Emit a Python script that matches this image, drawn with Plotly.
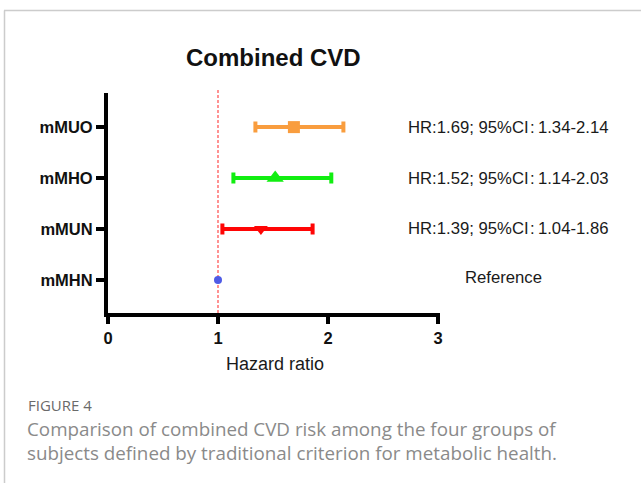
import plotly.graph_objects as go

# ---- data ----
groups = ["mMUO", "mMHO", "mMUN", "mMHN"]
hr = [1.69, 1.52, 1.39, 1.00]
ci_low = [1.34, 1.14, 1.04, None]
ci_high = [2.14, 2.03, 1.86, None]
colors = ["#F99D3E", "#11EE11", "#FF0505", "#4F5BE6"]
symbols = ["square", "triangle-up", "triangle-down", "circle"]
sizes = [12, 15, 12, 8]
x_ticks = [0, 1, 2, 3]
title = "Combined CVD"
x_title = "Hazard ratio"
fig_label = "FIGURE 4"
caption = ["Comparison of combined CVD risk among the four groups of",
           "subjects defined by traditional criterion for metabolic health."]

W, H = 641, 483
L, R, T, B = 108, 201, 93, 170
pw, ph = W - L - R, H - T - B

def px_x(px):
    return (px - L) / pw

def px_y(py):
    return (H - B - py) / ph

fig = go.Figure()

for g, h, lo, hi, c, s, sz in zip(groups, hr, ci_low, ci_high, colors, symbols, sizes):
    err = None
    if lo is not None:
        err = dict(type="data", symmetric=False, array=[hi - h], arrayminus=[h - lo],
                   color=c, thickness=4, width=5.5)
    fig.add_trace(go.Scatter(
        x=[h], y=[g], mode="markers",
        marker=dict(color=c, symbol=s, size=sz, line=dict(width=0)),
        error_x=err, showlegend=False, cliponaxis=False))

# reference line at HR = 1
fig.add_shape(type="line", xref="x", yref="paper", x0=1, x1=1, y0=0, y1=px_y(88),
              line=dict(color="#FF4A4A", width=1.2, dash="3px,2px"), layer="below")

# HR text labels
for g, h, lo, hi in zip(groups, hr, ci_low, ci_high):
    if lo is None:
        txt = "Reference"
        xc = px_x(503)
        ys = 2
    else:
        txt = f"HR:{h:.2f}; 95%CI\u200a:\u2009{lo:.2f}-{hi:.2f}"
        xc = px_x(508)
        ys = 0
    fig.add_annotation(x=xc, xref="paper", y=g, yref="y", text=txt, showarrow=False,
                       xanchor="center", yanchor="middle", yshift=ys,
                       font=dict(family="Liberation Sans, Arial", size=16.7, color="#1a1a1a"))

# title
fig.add_annotation(x=px_x(273.5), xref="paper", y=px_y(58), yref="paper", text=f"<b>{title}</b>",
                   showarrow=False, xanchor="center", yanchor="middle",
                   font=dict(family="Liberation Sans, Arial", size=24, color="#111"))
# x axis title
fig.add_annotation(x=px_x(274.5), xref="paper", y=px_y(364), yref="paper", text=x_title,
                   showarrow=False, xanchor="center", yanchor="middle",
                   font=dict(family="Liberation Sans, Arial", size=18, color="#1a1a1a"))

# caption
fig.add_annotation(x=px_x(26), xref="paper", y=px_y(405), yref="paper", text=fig_label,
                   showarrow=False, xanchor="left", yanchor="middle",
                   font=dict(family="Open Sans", size=15, color="#6a6a6a"))
for i, line in enumerate(caption):
    fig.add_annotation(x=px_x(25), xref="paper", y=px_y(429 + 24 * i), yref="paper", text=line,
                       showarrow=False, xanchor="left", yanchor="middle",
                       font=dict(family="Open Sans", size=18.8, color="#8a8a8a"))

# frame border
fig.add_shape(type="line", xref="paper", yref="paper", x0=px_x(4), x1=px_x(W + 2),
              y0=px_y(10.5), y1=px_y(10.5), line=dict(color="#cccccc", width=1.5))
fig.add_shape(type="line", xref="paper", yref="paper", x0=px_x(4.5), x1=px_x(4.5),
              y0=px_y(10.5), y1=px_y(H + 2), line=dict(color="#cccccc", width=1.5))

axis_font = dict(family="Liberation Sans, Arial", size=16.5, color="#111")
fig.update_layout(
    width=W, height=H,
    margin=dict(l=L, r=R, t=T, b=B, pad=0),
    paper_bgcolor="white", plot_bgcolor="white",
    xaxis=dict(range=[0, pw / 110], tickvals=x_ticks, ticktext=[f"<b>{v}</b>" for v in x_ticks],
               showline=True, linecolor="black", linewidth=4, ticks="outside", ticklen=7,
               tickwidth=4, tickcolor="black", showgrid=False, zeroline=False,
               tickfont=axis_font),
    yaxis=dict(type="category", categoryorder="array", categoryarray=groups[::-1],
               range=[-0.65, 3.67], tickvals=groups, ticktext=[f"<b>{g}</b>" for g in groups],
               showline=True, linecolor="black", linewidth=4, ticks="outside", ticklen=8,
               tickwidth=4, tickcolor="black", showgrid=False, zeroline=False,
               tickfont=axis_font),
)

fig.write_html("out.html")
